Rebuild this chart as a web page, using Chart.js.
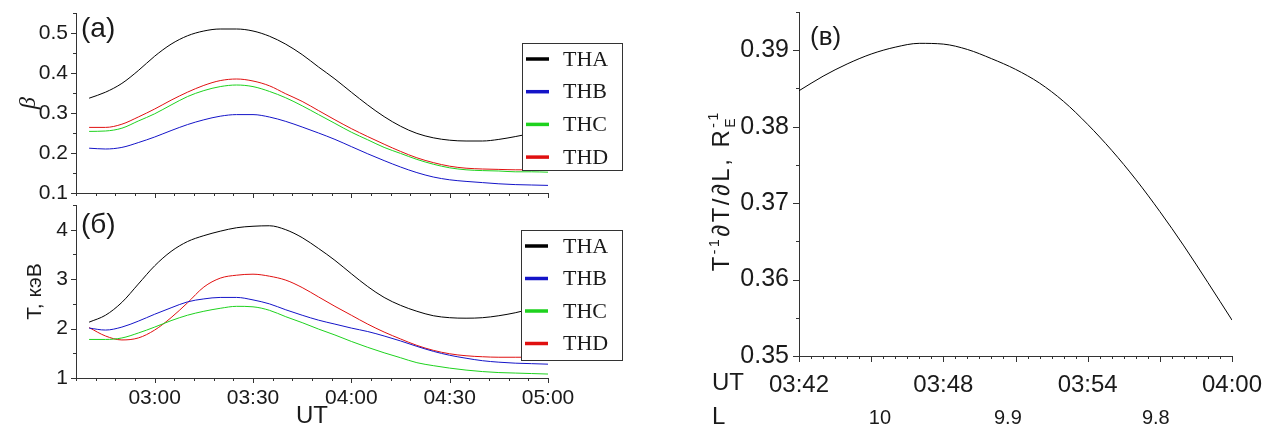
<!DOCTYPE html>
<html><head><meta charset="utf-8">
<script src="https://cdn.jsdelivr.net/npm/chart.js@4.4.1/dist/chart.umd.min.js"></script>
<style>
html,body{margin:0;padding:0;background:#fff;width:1280px;height:428px;overflow:hidden}
canvas{position:absolute}
#ca{left:0;top:0}
#cb{left:0;top:200px}
#cc{left:640px;top:0}
</style></head><body>
<canvas id="ca" width="640" height="200"></canvas>
<canvas id="cb" width="640" height="228"></canvas>
<canvas id="cc" width="640" height="428"></canvas>
<script>
// ---------------- DATA ----------------
const seriesNames = ['THA', 'THB', 'THC', 'THD'];
const seriesColors = ['#000000', '#1414c8', '#1ed21e', '#e01010'];

const utLeft = ['02:40','02:45','02:50','02:55','03:00','03:05','03:10','03:15','03:20','03:25',
  '03:30','03:35','03:40','03:45','03:50','03:55','04:00','04:05','04:10','04:15',
  '04:20','04:25','04:30','04:35','04:40','04:45','04:50','04:55','05:00'];

const betaTHA = [0.337,0.352,0.374,0.406,0.442,0.472,0.493,0.505,0.510,0.510,0.505,0.492,0.472,0.446,0.415,0.385,0.352,0.320,0.291,0.267,0.249,0.238,0.232,0.230,0.230,0.234,0.241,0.249,0.256];
const betaTHB = [0.212,0.210,0.214,0.226,0.240,0.256,0.271,0.283,0.292,0.296,0.296,0.290,0.279,0.265,0.250,0.234,0.216,0.198,0.181,0.165,0.151,0.140,0.133,0.129,0.126,0.123,0.121,0.120,0.119];
const betaTHC = [0.254,0.255,0.262,0.280,0.298,0.320,0.341,0.356,0.366,0.370,0.366,0.354,0.338,0.318,0.296,0.274,0.252,0.233,0.214,0.199,0.184,0.172,0.163,0.158,0.156,0.155,0.153,0.153,0.152];
const betaTHD = [0.264,0.264,0.272,0.290,0.310,0.332,0.352,0.369,0.381,0.385,0.380,0.368,0.348,0.329,0.306,0.283,0.261,0.241,0.222,0.204,0.188,0.176,0.167,0.162,0.160,0.159,0.158,0.158,0.158];

const tempTHA = [2.13,2.27,2.53,2.90,3.27,3.56,3.76,3.88,3.97,4.04,4.07,4.08,4.00,3.84,3.62,3.38,3.11,2.85,2.63,2.47,2.35,2.26,2.22,2.21,2.22,2.26,2.32,2.40,2.48];
const tempTHB = [2.01,1.97,2.03,2.15,2.29,2.42,2.54,2.60,2.63,2.63,2.58,2.50,2.38,2.27,2.17,2.09,2.01,1.94,1.85,1.75,1.64,1.54,1.46,1.40,1.35,1.32,1.30,1.29,1.28];
const tempTHC = [1.78,1.78,1.81,1.91,2.03,2.16,2.27,2.35,2.41,2.45,2.44,2.37,2.24,2.12,1.99,1.87,1.74,1.62,1.51,1.41,1.31,1.25,1.20,1.16,1.13,1.11,1.10,1.09,1.08];
const tempTHD = [2.02,1.85,1.77,1.81,1.97,2.22,2.52,2.84,3.02,3.08,3.10,3.06,2.98,2.83,2.64,2.45,2.27,2.09,1.93,1.79,1.66,1.56,1.49,1.45,1.43,1.42,1.42,1.42,1.42];

const leftRange = ['02:36', '05:00'];
const leftTickLabels = ['03:00','03:30','04:00','04:30','05:00'];
const betaTicks = [0.1, 0.2, 0.3, 0.4, 0.5];
const tempTicks = [1, 2, 3, 4];

const utRight = ['03:42','03:43','03:44','03:45','03:46','03:47','03:48','03:49','03:50','03:51',
  '03:52','03:53','03:54','03:55','03:56','03:57','03:58','03:59','04:00'];
const gradT = [0.3847,0.3866,0.3882,0.3895,0.3904,0.3909,0.3908,0.3901,0.3889,0.3875,0.3857,0.3833,0.3803,0.3769,0.3731,0.3689,0.3644,0.3596,0.3547];
const rightTickLabels = ['03:42','03:48','03:54','04:00'];
const gradTicks = [0.35, 0.36, 0.37, 0.38, 0.39];
const lValues = ['10', '9.9', '9.8'];
const lPositionsUT = ['03:45:22', '03:50:41', '03:56:50'];

// ---------------- HELPERS ----------------
const SANS = "'Liberation Sans', Arial, sans-serif";
const SERIF = "'Liberation Serif', 'Times New Roman', serif";
const AXIS = '#333333';
const TEXT = '#1a1a1a';

function toMin(s) {
  const p = s.split(':').map(Number);
  return p[0] * 60 + p[1] + (p[2] || 0) / 60;
}
function steps(from, to, step) {
  const n = Math.round((to - from) / step);
  return Array.from({length: n + 1}, (_, i) => from + i * step);
}
function pts(times, vals) { return times.map((t, i) => ({x: toMin(t), y: vals[i]})); }

const tickMarks = {
  id: 'tickMarks',
  afterDraw(chart, args, o) {
    const ctx = chart.ctx; ctx.save();
    ctx.strokeStyle = AXIS; ctx.lineWidth = 1;
    (o.sets || []).forEach(set => {
      const s = chart.scales[set.axis];
      set.values.forEach(v => {
        const p = Math.round(s.getPixelForValue(v)) + 0.5;
        ctx.beginPath();
        if (s.isHorizontal()) { ctx.moveTo(p, s.top); ctx.lineTo(p, s.top + set.len); }
        else { ctx.moveTo(s.right, p); ctx.lineTo(s.right - set.len, p); }
        ctx.stroke();
      });
    });
    ctx.restore();
  }
};

const boxLegend = {
  id: 'boxLegend',
  afterDatasetsDraw(chart, args, o) {
    if (!o.show) return;
    const ctx = chart.ctx; ctx.save();
    ctx.fillStyle = '#fff'; ctx.fillRect(o.x, o.y, o.w, o.h);
    ctx.strokeStyle = AXIS; ctx.lineWidth = 1; ctx.strokeRect(o.x + 0.5, o.y + 0.5, o.w, o.h);
    ctx.font = o.font; ctx.textBaseline = 'middle'; ctx.textAlign = 'left';
    chart.data.datasets.forEach((ds, i) => {
      const cy = o.y + o.first + i * o.step;
      ctx.strokeStyle = ds.borderColor; ctx.lineWidth = 3.5;
      ctx.beginPath(); ctx.moveTo(o.x + o.lx0, cy); ctx.lineTo(o.x + o.lx1, cy); ctx.stroke();
      ctx.fillStyle = TEXT; ctx.fillText(ds.label, o.x + o.tx, cy + 1);
    });
    ctx.restore();
  }
};

const panelText = {
  id: 'panelText',
  afterDraw(chart, args, o) {
    const ctx = chart.ctx; ctx.save();
    (o.items || []).forEach(it => {
      ctx.font = it.font; ctx.fillStyle = TEXT;
      ctx.textBaseline = 'top'; ctx.textAlign = 'left';
      ctx.fillText(it.text, it.x, it.y);
    });
    ctx.restore();
  }
};

// rotated axis title with sub/superscripts, drawn char by char with extra spacing
const richTitle = {
  id: 'richTitle',
  afterDraw(chart, args, o) {
    if (!o.show) return;
    const ctx = chart.ctx; ctx.save();
    ctx.translate(o.cx, o.cy); ctx.rotate(-Math.PI / 2);
    ctx.fillStyle = TEXT; ctx.textBaseline = 'alphabetic'; ctx.textAlign = 'left';
    const big = o.size + 'px ' + SANS, small = Math.round(o.size * 0.6) + 'px ' + SANS;
    const sp = o.spacing;
    const runs = [
      {t: 'T', f: big, dy: 0},
      {t: '-1', f: small, dy: -o.size * 0.42},
      {t: '\u2202T/\u2202L, R', f: big, dy: 0},
      {t: 'E', f: small, dy: o.size * 0.25, stack: true},
      {t: '-1', f: small, dy: -o.size * 0.45, stackEnd: true}
    ];
    const runWidth = r => { ctx.font = r.f; let w = 0; for (const c of r.t) w += ctx.measureText(c).width + sp; return w; };
    runs.forEach(r => { r.w = runWidth(r); });
    let total = 0, stackW = 0;
    runs.forEach(r => {
      if (r.stack) { stackW = r.w; return; }
      if (r.stackEnd) { total += Math.max(stackW, r.w) - sp; return; }
      total += r.w;
    });
    const drawRun = (r, x0, y) => {
      ctx.font = r.f; let x = x0;
      for (const c of r.t) { ctx.fillText(c, x, y); x += ctx.measureText(c).width + sp; }
    };
    let x = -total / 2; const base = o.size * 0.36;
    let sx = 0;
    runs.forEach(r => {
      if (r.stack) { sx = x; drawRun(r, x, base + r.dy); return; }
      if (r.stackEnd) { drawRun(r, sx, base + r.dy); x += Math.max(stackW, r.w); return; }
      drawRun(r, x, base + r.dy); x += r.w;
    });
    ctx.restore();
  }
};

function lineDatasets(times, arrays) {
  return arrays.map((vals, i) => ({
    label: seriesNames[i], data: pts(times, vals), borderColor: seriesColors[i],
    backgroundColor: seriesColors[i], borderWidth: 1, pointRadius: 0,
    cubicInterpolationMode: 'monotone', fill: false
  }));
}

function setTicks(values) { return s => { s.ticks = values.map(v => ({value: v})); }; }
function fixSize(prop, val) {
  return s => { s[prop] = val; s.paddingTop = 0; s.paddingBottom = 0; s.paddingLeft = 0; s.paddingRight = 0; };
}

const common = { responsive: false, animation: false, devicePixelRatio: 1, events: [] };

const xMin = toMin(leftRange[0]), xMax = toMin(leftRange[1]);
const leftMinor = steps(xMin, xMax, 6);
const leftMajor = leftTickLabels.map(toMin);

// ---------------- PANEL (а) ----------------
new Chart(document.getElementById('ca'), {
  type: 'line',
  data: {datasets: lineDatasets(utLeft, [betaTHA, betaTHB, betaTHC, betaTHD])},
  plugins: [tickMarks, boxLegend, panelText],
  options: Object.assign({}, common, {
    layout: {padding: {left: 0, top: 13, right: 92, bottom: 0}},
    scales: {
      x: {type: 'linear', min: xMin, max: xMax, afterBuildTicks: setTicks(leftMajor),
        ticks: {display: false}, grid: {drawOnChartArea: false, drawTicks: false},
        border: {display: true, color: AXIS, width: 1},
        afterFit: fixSize('height', 7)},
      y: {type: 'linear', min: 0.1, max: 0.55, afterBuildTicks: setTicks(betaTicks),
        ticks: {callback: v => v.toFixed(1), font: {family: SANS, size: 21}, color: TEXT, padding: 8},
        grid: {drawOnChartArea: false, drawTicks: false},
        border: {display: true, color: AXIS, width: 1},
        title: {display: true, text: '\u03B2', color: TEXT,
          font: {family: SERIF, style: 'italic', size: 24}, padding: {top: 14, bottom: 0}},
        afterFit: fixSize('width', 76)}
    },
    plugins: {
      legend: {display: false}, tooltip: {enabled: false},
      tickMarks: {sets: [
        {axis: 'x', values: leftMinor, len: 3}, {axis: 'x', values: leftMajor, len: 5},
        {axis: 'y', values: steps(0.1, 0.55, 0.05), len: 3}, {axis: 'y', values: betaTicks, len: 5}]},
      boxLegend: {show: true, x: 522, y: 43, w: 100, h: 127, first: 16, step: 32.7,
        lx0: 4, lx1: 27, tx: 41, font: '22px ' + SERIF},
      panelText: {items: [{text: '(\u0430)', x: 81, y: 15, font: '28px ' + SANS}]}
    }
  })
});

// ---------------- PANEL (б) ----------------
new Chart(document.getElementById('cb'), {
  type: 'line',
  data: {datasets: lineDatasets(utLeft, [tempTHA, tempTHB, tempTHC, tempTHD])},
  plugins: [tickMarks, boxLegend, panelText],
  options: Object.assign({}, common, {
    layout: {padding: {left: 0, top: 5, right: 92, bottom: 0}},
    scales: {
      x: {type: 'linear', min: xMin, max: xMax, afterBuildTicks: setTicks(leftMajor),
        ticks: {callback: (v, i) => leftTickLabels[i], font: {family: SANS, size: 21}, color: TEXT,
          padding: 8, maxRotation: 0, autoSkip: false},
        grid: {drawOnChartArea: false, drawTicks: false},
        border: {display: true, color: AXIS, width: 1},
        title: {display: true, text: 'UT', color: TEXT,
          font: {family: SANS, size: 24, lineHeight: 1}, padding: {top: 0, bottom: 0}},
        afterFit: fixSize('height', 50)},
      y: {type: 'linear', min: 1, max: 4.5, afterBuildTicks: setTicks(tempTicks),
        ticks: {callback: v => String(v), font: {family: SANS, size: 21}, color: TEXT, padding: 8},
        grid: {drawOnChartArea: false, drawTicks: false},
        border: {display: true, color: AXIS, width: 1},
        title: {display: true, text: 'T, \u043A\u044D\u0412', color: TEXT,
          font: {family: SANS, size: 21}, padding: {top: 23, bottom: 0}},
        afterFit: fixSize('width', 76)}
    },
    plugins: {
      legend: {display: false}, tooltip: {enabled: false},
      tickMarks: {sets: [
        {axis: 'x', values: leftMinor, len: 3}, {axis: 'x', values: leftMajor, len: 5},
        {axis: 'y', values: steps(1, 4.5, 0.5), len: 3}, {axis: 'y', values: tempTicks, len: 5}]},
      boxLegend: {show: true, x: 521, y: 30, w: 101, h: 130, first: 16, step: 32.5,
        lx0: 4, lx1: 27, tx: 42, font: '22px ' + SERIF},
      panelText: {items: [{text: '(\u0431)', x: 81, y: 11, font: '28px ' + SANS}]}
    }
  })
});

// ---------------- PANEL (в) ----------------
const rMin = toMin(utRight[0]), rMax = toMin(utRight[utRight.length - 1]);
const rightMajor = rightTickLabels.map(toMin);
const lPos = lPositionsUT.map(toMin);
new Chart(document.getElementById('cc'), {
  type: 'line',
  data: {datasets: [{label: 'gradT', data: pts(utRight, gradT), borderColor: '#000', borderWidth: 1,
    pointRadius: 0, cubicInterpolationMode: 'monotone', fill: false}]},
  plugins: [tickMarks, panelText, richTitle],
  options: Object.assign({}, common, {
    layout: {padding: {left: 0, top: 12, right: 48, bottom: 0}},
    scales: {
      x: {type: 'linear', position: 'bottom', weight: 0, min: rMin, max: rMax,
        afterBuildTicks: setTicks(rightMajor),
        ticks: {callback: (v, i) => rightTickLabels[i], font: {family: SANS, size: 24}, color: TEXT,
          padding: 15, maxRotation: 0, autoSkip: false},
        grid: {drawOnChartArea: false, drawTicks: false},
        border: {display: true, color: AXIS, width: 1},
        afterFit: fixSize('height', 40)},
      xL: {type: 'linear', position: 'bottom', weight: 1, min: rMin, max: rMax,
        afterBuildTicks: setTicks(lPos),
        ticks: {callback: (v, i) => lValues[i], font: {family: SANS, size: 20}, color: TEXT,
          padding: 10, maxRotation: 0, autoSkip: false},
        grid: {display: false, drawTicks: false}, border: {display: false},
        afterFit: fixSize('height', 32)},
      y: {type: 'linear', min: 0.35, max: 0.395, afterBuildTicks: setTicks(gradTicks),
        ticks: {callback: v => v.toFixed(2), font: {family: SANS, size: 25}, color: TEXT, padding: 10},
        grid: {drawOnChartArea: false, drawTicks: false},
        border: {display: true, color: AXIS, width: 1},
        afterFit: fixSize('width', 159)}
    },
    plugins: {
      legend: {display: false}, tooltip: {enabled: false},
      tickMarks: {sets: [
        {axis: 'x', values: steps(rMin, rMax, 0.5), len: 3}, {axis: 'x', values: steps(rMin, rMax, 3), len: 6},
        {axis: 'y', values: steps(0.35, 0.395, 0.005), len: 3}, {axis: 'y', values: gradTicks, len: 6}]},
      panelText: {items: [
        {text: '(\u0432)', x: 170, y: 25, font: '26px ' + SANS},
        {text: 'UT', x: 72, y: 371, font: '24px ' + SANS},
        {text: 'L', x: 72, y: 405, font: '24px ' + SANS}]},
      richTitle: {show: true, cx: 80, cy: 192, size: 24, spacing: 2.5}
    }
  })
});
</script>
</body></html>
